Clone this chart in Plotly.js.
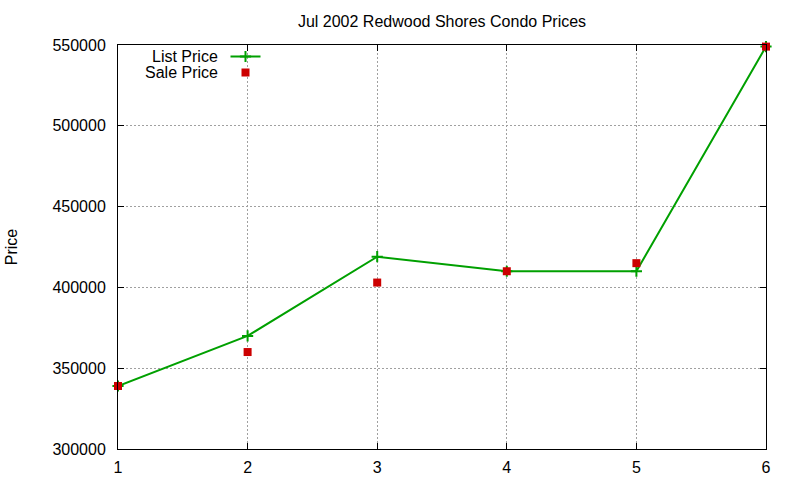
<!DOCTYPE html>
<html>
<head>
<meta charset="utf-8">
<script src="https://cdn.plot.ly/plotly-3.0.1.min.js"></script>
<style>
  body { margin: 0; background: #fff; }
  #graph { width: 800px; height: 480px; }
</style>
</head>
<body>
<div id="graph"></div>
<script>
    // Listing number and prices
    const listingNo = [1, 2, 3, 4, 5, 6];
    const listPrice = [339000, 370000, 419000, 410000, 410000, 549000];
    const salePrice = [339000, 360000, 403000, 410000, 415000, 549000];

    const seriesNames = ['List Price', 'Sale Price'];

    const font = 'Liberation Sans, Arial, sans-serif';

    var traceList = {
        type: 'scatter',
        mode: 'lines+markers',
        x: listingNo,
        y: listPrice,
        name: ' ',
        legend: 'legend',
        cliponaxis: false,
        line: { color: '#00a000', width: 2 },
        marker: {
            symbol: 'cross-thin',
            size: 8,
            color: '#00a000',
            line: { color: '#00a000', width: 2 }
        }
    };

    var traceSale = {
        type: 'scatter',
        mode: 'markers',
        x: listingNo,
        y: salePrice,
        name: ' ',
        legend: 'legend2',
        cliponaxis: false,
        marker: { symbol: 'square', size: 8, color: '#cc0000' }
    };

    var gridStyle = {
        showgrid: true,
        gridcolor: '#a0a0a0',
        gridwidth: 1,
        griddash: '2px,2px',
        showline: true,
        linecolor: '#000',
        linewidth: 1,
        mirror: 'ticks',
        ticks: 'inside',
        ticklen: 6,
        tickcolor: '#000',
        zeroline: false,
        tickfont: { family: font, size: 16, color: '#000' }
    };

    // one legend per series so each sample sits on its own row like the original
    function legendAt(topPx) {
        return {
            x: (225.5 - 118) / 648,
            xanchor: 'left',
            y: 1 - (topPx - 45) / 404,
            yanchor: 'top',
            bgcolor: 'rgba(0,0,0,0)',
            font: { size: 10 }
        };
    }

    var layout = {
        width: 800,
        height: 480,
        paper_bgcolor: '#fff',
        plot_bgcolor: '#fff',
        margin: { l: 118, r: 34, t: 45, b: 31 },
        font: { family: font, size: 16, color: '#000' },
        title: {
            text: 'Jul 2002 Redwood Shores Condo Prices',
            font: { family: font, size: 16, color: '#000' },
            x: 0.5, xref: 'paper',
            y: 1 - 21 / 480, yref: 'container', yanchor: 'middle'
        },
        xaxis: Object.assign({}, gridStyle, {
            range: [1, 6],
            tickvals: listingNo,
            ticklabelstandoff: 4,
            automargin: false
        }),
        yaxis: Object.assign({}, gridStyle, {
            range: [300000, 550000],
            dtick: 50000,
            tickformat: 'd',
            ticklabelstandoff: 8,
            automargin: false,
            title: {
                text: 'Price',
                font: { family: font, size: 16, color: '#000' },
                standoff: 30
            }
        }),
        showlegend: true,
        legend: legendAt(42),
        legend2: legendAt(58),
        annotations: seriesNames.map((name, i) => ({
            text: name,
            xref: 'paper', yref: 'paper',
            x: (220 - 118) / 648,
            y: 1 - (11 + i * 16) / 404,
            xanchor: 'right', yanchor: 'middle',
            showarrow: false,
            font: { family: font, size: 16, color: '#000' }
        }))
    };

    Plotly.newPlot('graph', [traceList, traceSale], layout, { staticPlot: true });
</script>
</body>
</html>
